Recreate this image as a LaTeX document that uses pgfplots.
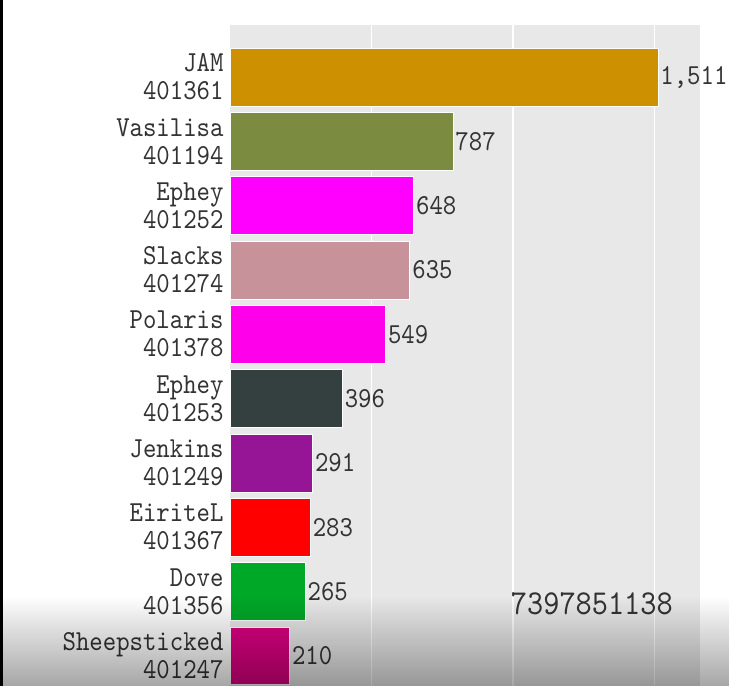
\documentclass[border=0pt]{standalone}
\usepackage{fontspec}
\setmonofont{lmmono10-regular.otf}[FakeStretch=0.88]
\usepackage{pgfplots}
\pgfplotsset{compat=1.18}
\usetikzlibrary{fadings}
\definecolor{bg}{RGB}{232,232,232}
\definecolor{cJAM}{RGB}{204,144,0}
\definecolor{cVas}{RGB}{123,139,64}
\definecolor{cEph}{RGB}{255,0,255}
\definecolor{cSla}{RGB}{200,146,155}
\definecolor{cPol}{RGB}{255,0,235}
\definecolor{cEph2}{RGB}{52,64,64}
\definecolor{cJen}{RGB}{150,20,150}
\definecolor{cEir}{RGB}{255,0,0}
\definecolor{cDov}{RGB}{0,168,40}
\definecolor{cShe}{RGB}{220,0,130}
\newcommand\lbl{\ttfamily\fontsize{29}{28}\selectfont}
\begin{document}
\begin{tikzpicture}
\useasboundingbox (-230pt,0pt) rectangle (500pt,686pt);
\begin{axis}[
  at={(0pt,0pt)}, anchor=south west,
  scale only axis, width=470pt, height=661pt,
  xmin=0, xmax=1660, ymin=0.53, ymax=10.81,
  xbar, bar width=0.9,
  axis line style={draw=none},
  axis background/.style={fill=bg},
  xtick={500,1000,1500}, xticklabels={},
  xmajorgrids, grid style={white, line width=1.5pt},
  major tick length=0pt,
  ytick={1,2,3,4,5,6,7,8,9,10},
  yticklabels={{Sheepsticked\\401247},{Dove\\401356},{EiriteL\\401367},{Jenkins\\401249},{Ephey\\401253},{Polaris\\401378},{Slacks\\401274},{Ephey\\401252},{Vasilisa\\401194},{JAM\\401361}},
  yticklabel style={align=right, font=\lbl, text=black!80, xshift=-3pt},
  point meta=explicit symbolic,
  nodes near coords,
  nodes near coords style={anchor=west, font=\lbl, text=black!80, xshift=-1pt},
  clip=false,
  b/.style={fill=#1, draw=white, line width=0.6pt, bar shift=0pt},
]
\addplot[b=cJAM] coordinates {(1511,10) [1,511]};
\addplot[b=cVas] coordinates {(787,9) [787]};
\addplot[b=cEph] coordinates {(648,8) [648]};
\addplot[b=cSla] coordinates {(635,7) [635]};
\addplot[b=cPol] coordinates {(549,6) [549]};
\addplot[b=cEph2] coordinates {(396,5) [396]};
\addplot[b=cJen] coordinates {(291,4) [291]};
\addplot[b=cEir] coordinates {(283,3) [283]};
\addplot[b=cDov] coordinates {(265,2) [265]};
\addplot[b=cShe] coordinates {(210,1) [210]};
\node[font=\ttfamily\fontsize{35}{35}\selectfont, text=black!80] at (axis cs:1278,1.81) {7397851138};
\end{axis}
\fill[black] (-230pt,0pt) rectangle (-227pt,686pt);
\fill[black, path fading=north, fill opacity=0.35] (-227pt,0pt) rectangle (500pt,90pt);
\end{tikzpicture}
\end{document}
